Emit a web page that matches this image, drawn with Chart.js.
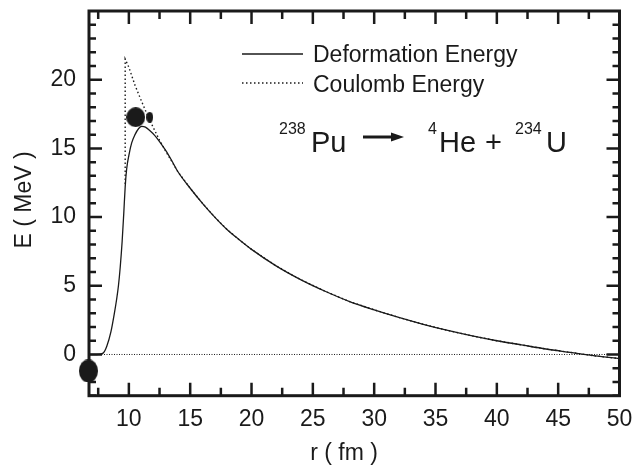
<!DOCTYPE html>
<html>
<head>
<meta charset="utf-8">
<script src="https://cdn.jsdelivr.net/npm/chart.js@4.4.1/dist/chart.umd.min.js"></script>
<style>
html, body { margin: 0; padding: 0; background: #fff; }
</style>
</head>
<body>
<canvas id="Chart" width="634" height="468"></canvas>
<script>
// deformation energy (solid)
const deformR = [6.75, 7.4, 7.9, 8.2, 8.54, 8.8, 9.0, 9.15, 9.3, 9.45, 9.58, 9.7, 9.82, 10.0, 10.23, 10.5, 10.8, 11.05, 11.35, 11.7, 12.1, 12.5, 13.0, 13.5, 14, 15, 16, 17, 18, 19, 20, 22, 24, 26, 28, 30, 32, 34, 36, 38, 40, 42, 44, 46, 48, 50];
const deformE = [0, 0, 0.1, 0.6, 1.66, 2.9, 4.0, 5.0, 6.4, 8.2, 10.2, 12.2, 13.5, 14.5, 15.4, 16.0, 16.45, 16.6, 16.55, 16.3, 15.95, 15.5, 14.85, 14.1, 13.3, 12.1, 11.0, 10.0, 9.1, 8.35, 7.65, 6.45, 5.45, 4.6, 3.85, 3.25, 2.7, 2.2, 1.75, 1.35, 1.0, 0.7, 0.4, 0.15, -0.1, -0.3];

// coulomb energy (dotted)
const coulombR = [9.7, 9.7, 10.0, 10.5, 11.0, 11.5, 12.0, 12.5, 13.0, 13.5, 14, 15, 16, 17, 18, 19, 20, 22, 24, 26, 28, 30, 32, 34, 36, 38, 40, 42, 44, 46, 48, 50];
const coulombE = [12.4, 21.5, 20.9, 19.6, 18.5, 17.45, 16.5, 15.6, 14.8, 14.05, 13.3, 12.1, 11.0, 10.0, 9.1, 8.35, 7.65, 6.45, 5.45, 4.6, 3.85, 3.25, 2.7, 2.2, 1.75, 1.35, 1.0, 0.7, 0.4, 0.15, -0.1, -0.3];

// zero level
const zeroR = [6.75, 50];
const zeroE = [0, 0];

// nuclei blobs
const nucleiR = [6.7, 10.56, 11.7];
const nucleiE = [-1.2, 17.27, 17.27];

const xTicks = [10, 15, 20, 25, 30, 35, 40, 45, 50];
const xMinor = [7.5, 12.5, 17.5, 22.5, 27.5, 32.5, 37.5, 42.5, 47.5];
const yTicks = [0, 5, 10, 15, 20];
const yMinor = [-3, -2, -1, 1, 2, 3, 4, 6, 7, 8, 9, 11, 12, 13, 14, 16, 17, 18, 19, 21, 22, 23, 24];

const FONT = "'Liberation Sans', Arial, sans-serif";
const INK = '#1a1a1a';

const toXY = (xs, ys) => xs.map((x, i) => ({ x: x, y: ys[i] }));

function ellipse(w, h) {
    const c = document.createElement('canvas');
    c.width = w; c.height = h;
    const g = c.getContext('2d');
    g.fillStyle = INK;
    g.beginPath();
    g.ellipse(w / 2, h / 2, w / 2, h / 2, 0, 0, Math.PI * 2);
    g.fill();
    return c;
}

const framePlugin = {
    id: 'frame',
    afterDraw(chart) {
        const g = chart.ctx;
        const a = chart.chartArea;
        const xs = chart.scales.x, ys = chart.scales.y;
        g.save();
        g.strokeStyle = INK;
        g.lineCap = 'butt';
        // ticks
        g.lineWidth = 2.5;
        g.beginPath();
        const tx = (v, len) => {
            const p = xs.getPixelForValue(v);
            g.moveTo(p, a.bottom); g.lineTo(p, a.bottom - len);
            g.moveTo(p, a.top); g.lineTo(p, a.top + len);
        };
        const ty = (v, len) => {
            const p = ys.getPixelForValue(v);
            g.moveTo(a.left, p); g.lineTo(a.left + len, p);
            g.moveTo(a.right, p); g.lineTo(a.right - len, p);
        };
        xTicks.forEach(v => tx(v, 13));
        xMinor.forEach(v => tx(v, 8));
        yTicks.forEach(v => ty(v, 13));
        yMinor.forEach(v => ty(v, 7));
        g.stroke();
        // box
        g.lineWidth = 3;
        g.strokeRect(a.left, a.top, a.right - a.left, a.bottom - a.top);

        // legend
        g.lineWidth = 1.3;
        g.beginPath(); g.moveTo(242, 54); g.lineTo(303, 54); g.stroke();
        g.setLineDash([1.5, 2.5]);
        g.beginPath(); g.moveTo(242, 83); g.lineTo(303, 83); g.stroke();
        g.setLineDash([]);
        g.fillStyle = INK;
        g.textBaseline = 'alphabetic';
        g.textAlign = 'left';
        g.font = '23px ' + FONT;
        g.fillText('Deformation Energy', 313, 62);
        g.fillText('Coulomb Energy', 313, 92);

        // reaction
        g.font = '16px ' + FONT;
        g.fillText('238', 279, 134);
        g.fillText('4', 428, 134);
        g.fillText('234', 515, 134);
        g.font = '29px ' + FONT;
        g.fillText('Pu', 311, 152);
        g.fillText('He', 439, 152);
        g.fillText('+', 485, 152);
        g.fillText('U', 546, 152);
        g.lineWidth = 3;
        g.beginPath(); g.moveTo(363, 137); g.lineTo(393, 137); g.stroke();
        g.beginPath(); g.moveTo(404, 137); g.lineTo(391, 132.5); g.lineTo(391, 141.5); g.closePath(); g.fill();

        // axis titles
        g.font = '23px ' + FONT;
        g.textAlign = 'center';
        g.fillText('r ( fm )', 344, 460);
        g.translate(31, 200);
        g.rotate(-Math.PI / 2);
        g.fillText('E ( MeV )', 0, 0);
        g.restore();
    }
};

const ctx = document.getElementById('Chart').getContext('2d');
const myChart = new Chart(ctx, {
    type: 'scatter',
    data: {
        datasets: [
            {
                label: 'Zero',
                data: toXY(zeroR, zeroE),
                showLine: true,
                pointRadius: 0,
                borderColor: INK,
                borderWidth: 1,
                borderDash: [1, 1.5],
            },
            {
                label: 'Coulomb Energy',
                data: toXY(coulombR, coulombE),
                showLine: true,
                tension: 0,
                pointRadius: 0,
                borderColor: INK,
                borderWidth: 1.4,
                borderDash: [1.5, 2.5],
            },
            {
                label: 'Deformation Energy',
                data: toXY(deformR, deformE),
                showLine: true,
                cubicInterpolationMode: 'monotone',
                pointRadius: 0,
                borderColor: INK,
                borderWidth: 1.3,
            },
            {
                label: 'Nuclei',
                data: toXY(nucleiR, nucleiE),
                showLine: false,
                clip: false,
                pointStyle: [ellipse(19, 23), ellipse(19, 20), ellipse(7, 11)],
                pointRadius: 10,
            },
        ],
    },
    options: {
        responsive: false,
        animation: false,
        layout: { padding: { top: 0, right: 14.5, left: 0, bottom: 0 } },
        plugins: {
            legend: { display: false },
            tooltip: { enabled: false },
        },
        scales: {
            x: {
                type: 'linear',
                min: 6.75,
                max: 50,
                afterBuildTicks: s => { s.ticks = xTicks.map(v => ({ value: v })); },
                afterFit: s => { s.height = 72.3; s.paddingLeft = 0; s.paddingRight = 0; },
                grid: { display: false, drawTicks: false },
                border: { display: false },
                ticks: { font: { size: 23, family: FONT }, color: INK, padding: 10, maxRotation: 0 },
            },
            y: {
                type: 'linear',
                min: -3,
                max: 25,
                afterBuildTicks: s => { s.ticks = yTicks.map(v => ({ value: v })); },
                afterFit: s => { s.width = 89; s.paddingTop = 0; s.paddingBottom = 0; },
                grid: { display: false, drawTicks: false },
                border: { display: false },
                ticks: { font: { size: 23, family: FONT }, color: INK, padding: 13 },
            },
        },
    },
    plugins: [framePlugin],
});
</script>
</body>
</html>
